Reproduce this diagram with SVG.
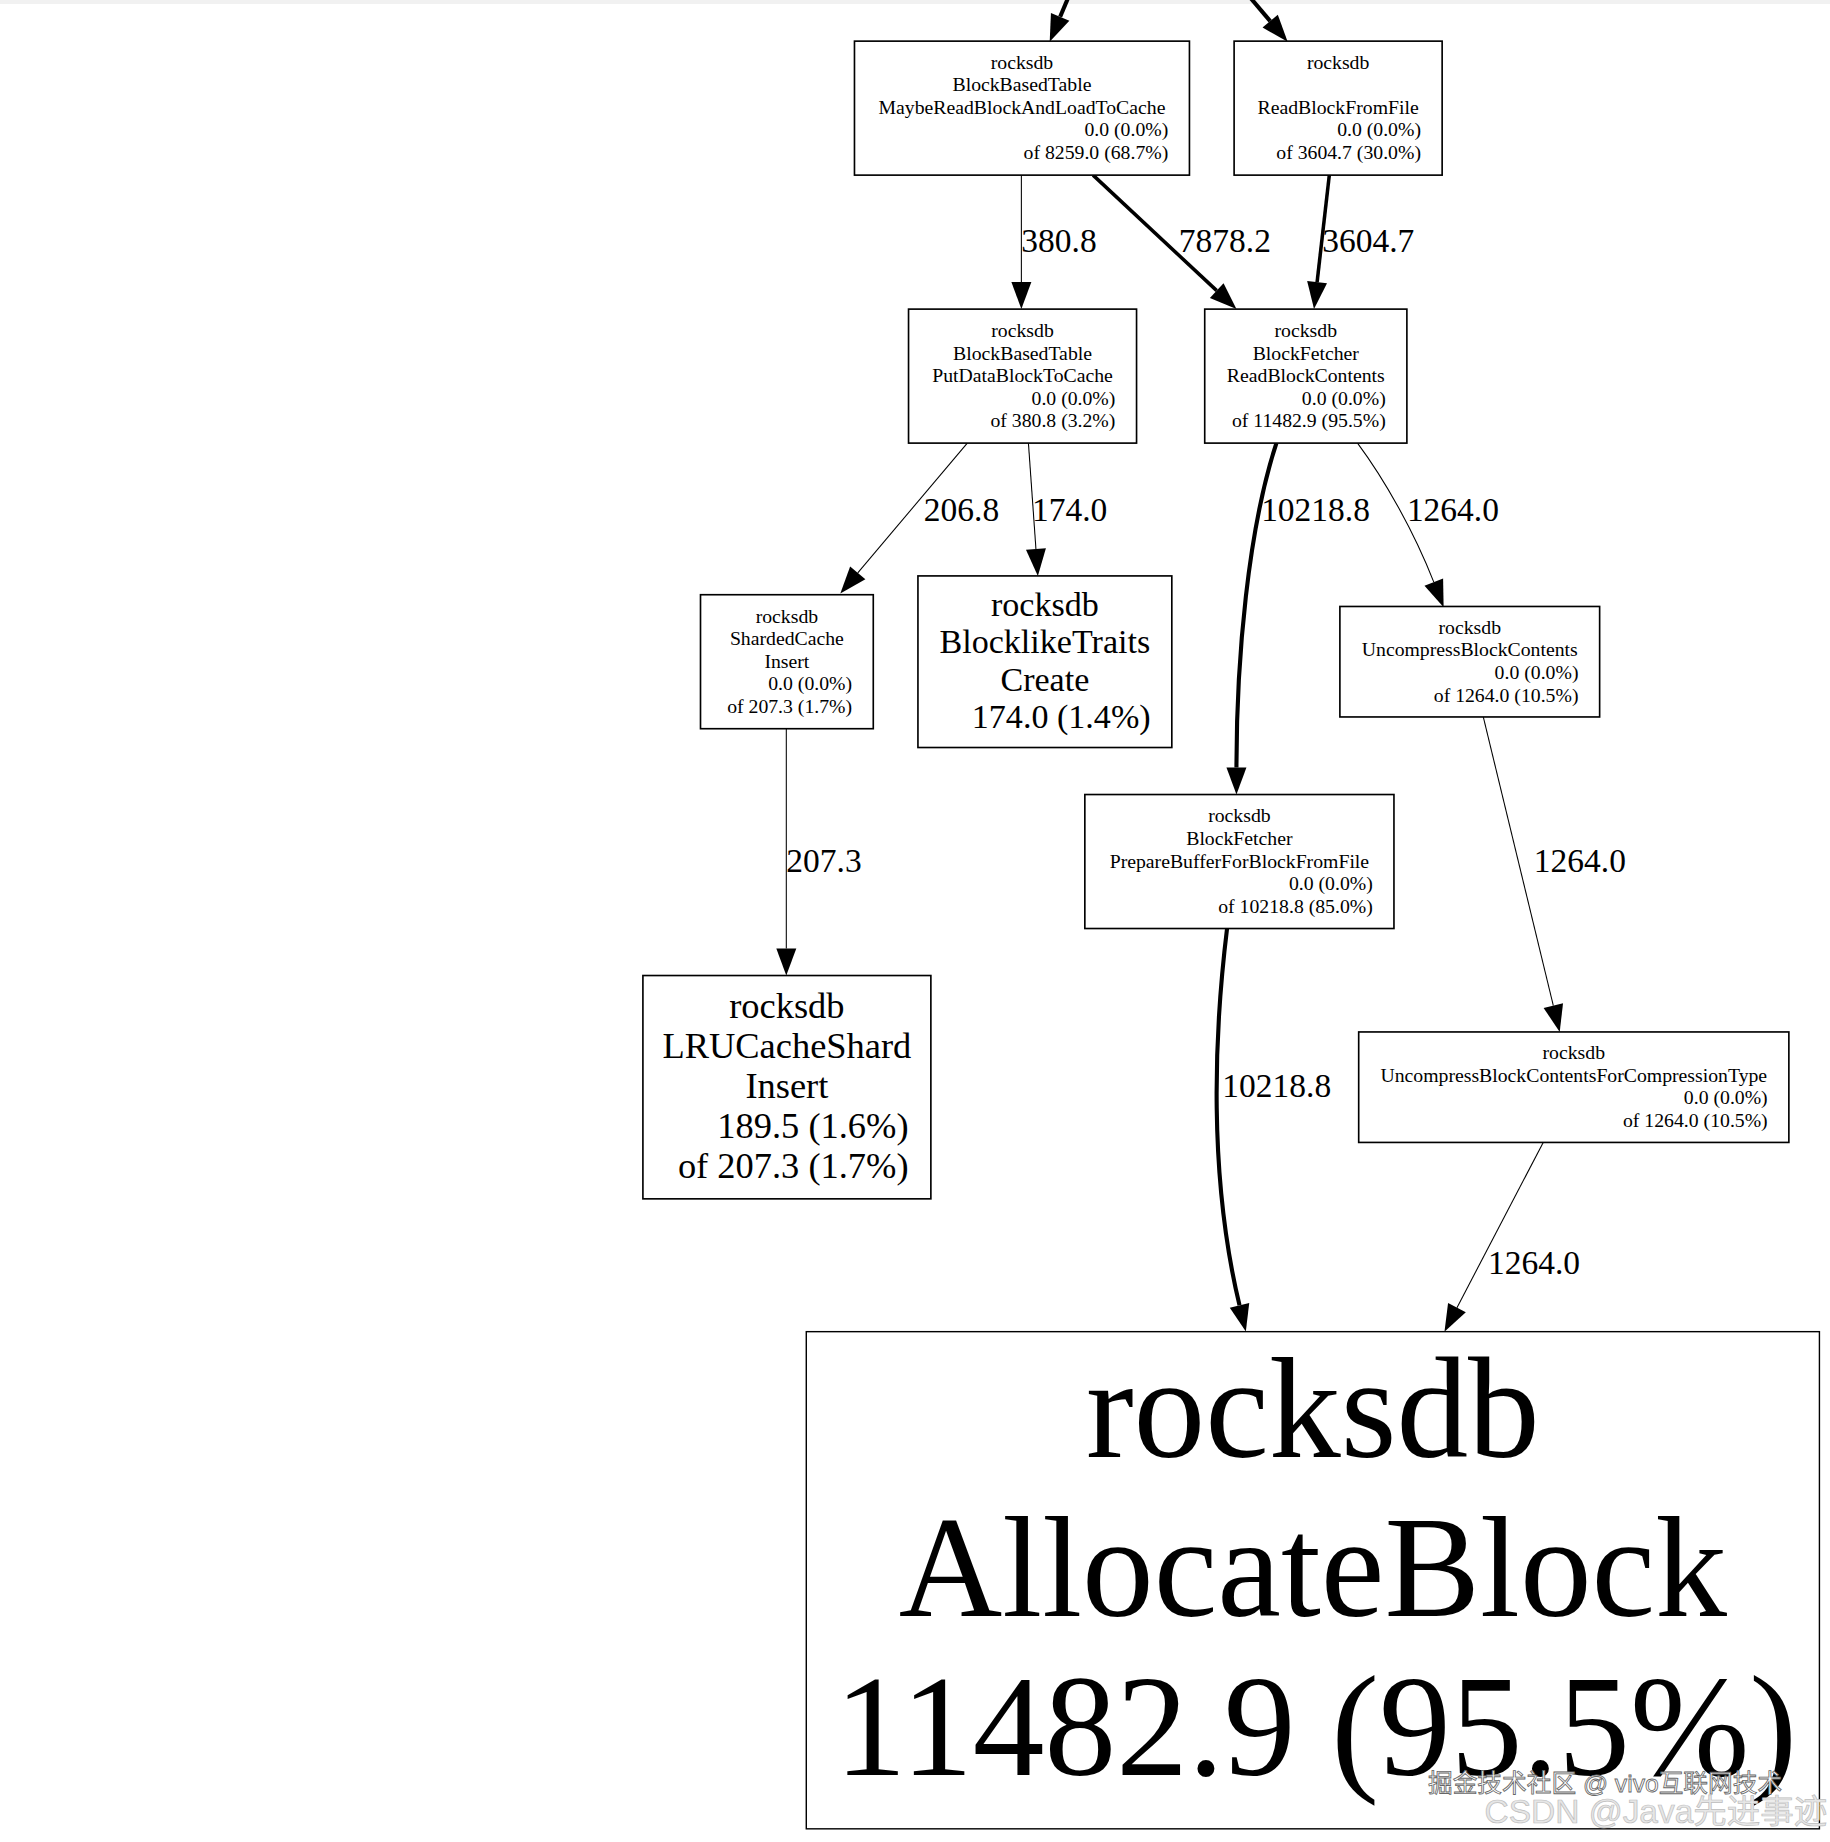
<svg xmlns="http://www.w3.org/2000/svg" width="1830" height="1842" viewBox="0 0 1830 1842">
<style>
text{font-family:"Liberation Serif","Times New Roman",serif;fill:#000}
.n rect{fill:#fff;stroke:#000;stroke-width:1.4}
.s{font-size:16.8px}
.m{font-size:29px}
.l{font-size:31px}
.xl{font-size:122px}
.c{text-anchor:middle}
.r{text-anchor:end}
.el{font-size:28.5px}
.e{fill:none;stroke:#000;marker-end:url(#ah)}
.t1{stroke-width:0.9}
.t3{stroke-width:3}
.t4{stroke-width:3.5}
.wm{font-family:"Liberation Sans","Noto Sans CJK SC",sans-serif}
</style>
<defs>
<marker id="ah" markerUnits="userSpaceOnUse" markerWidth="23" markerHeight="17" refX="0" refY="8.5" orient="auto" overflow="visible">
<path d="M0,0 L23,8.5 L0,17 z" fill="#000"/>
</marker>
</defs>
<rect x="0" y="0" width="1830" height="1842" fill="#fff"/>
<rect x="0" y="0" width="1830" height="4" fill="#f1f1f1"/>
<g transform="scale(1.17534)">
<g id="connectors">
<path class="e t4" d="M912.2,-10 L902,14.3"/>
<path class="e t4" d="M1057,-10 L1080.7,18"/>
<path class="e t1" d="M869,149 L869,240"/>
<path class="e t3" d="M930,149 L1035.2,247.3"/>
<path class="e t3" d="M1131,149 L1120.6,240.1"/>
<path class="e t1" d="M823,377 L729.8,487.4"/>
<path class="e t1" d="M875,377 L881.4,467.1"/>
<path class="e t4" d="M1086,377 C1062,450 1052,560 1052,653"/>
<path class="e t1" d="M1155,377 C1178,408 1203,452 1219.9,495.3"/>
<path class="e t1" d="M669,620 L669,807"/>
<path class="e t1" d="M1262,610 L1321.6,855.6"/>
<path class="e t4" d="M1044,790 C1033,880 1028,1000 1054.6,1110.6"/>
<path class="e t1" d="M1313,972 L1239.6,1112.6"/>
<text class="el" x="869" y="214.5">380.8</text>
<text class="el" x="1003" y="214.5">7878.2</text>
<text class="el" x="1125" y="214.5">3604.7</text>
<text class="el" x="786" y="443">206.8</text>
<text class="el" x="878" y="443">174.0</text>
<text class="el" x="1073" y="443">10218.8</text>
<text class="el" x="1197" y="443">1264.0</text>
<text class="el" x="669" y="742">207.3</text>
<text class="el" x="1305" y="742">1264.0</text>
<text class="el" x="1040" y="933">10218.8</text>
<text class="el" x="1266" y="1084">1264.0</text>
</g>
<g id="n1" class="n">
<rect x="727" y="35" width="285" height="114"/>
<text class="s c" x="869.5" y="58.5">rocksdb</text>
<text class="s c" x="869.5" y="77.7">BlockBasedTable</text>
<text class="s c" x="869.5" y="96.9">MaybeReadBlockAndLoadToCache</text>
<text class="s r" x="994" y="116.1">0.0 (0.0%)</text>
<text class="s r" x="994" y="135.3">of 8259.0 (68.7%)</text>
</g>
<g id="n2" class="n">
<rect x="1050" y="35" width="177" height="114"/>
<text class="s c" x="1138.5" y="58.5">rocksdb</text>
<text class="s c" x="1138.5" y="96.9">ReadBlockFromFile</text>
<text class="s r" x="1209" y="116.1">0.0 (0.0%)</text>
<text class="s r" x="1209" y="135.3">of 3604.7 (30.0%)</text>
</g>
<g id="n3" class="n">
<rect x="773" y="263" width="194" height="114"/>
<text class="s c" x="870" y="286.7">rocksdb</text>
<text class="s c" x="870" y="305.9">BlockBasedTable</text>
<text class="s c" x="870" y="325.1">PutDataBlockToCache</text>
<text class="s r" x="949" y="344.3">0.0 (0.0%)</text>
<text class="s r" x="949" y="363.5">of 380.8 (3.2%)</text>
</g>
<g id="n4" class="n">
<rect x="1025" y="263" width="172" height="114"/>
<text class="s c" x="1111" y="286.7">rocksdb</text>
<text class="s c" x="1111" y="305.9">BlockFetcher</text>
<text class="s c" x="1111" y="325.1">ReadBlockContents</text>
<text class="s r" x="1179" y="344.3">0.0 (0.0%)</text>
<text class="s r" x="1179" y="363.5">of 11482.9 (95.5%)</text>
</g>
<g id="n5" class="n">
<rect x="596" y="506" width="147" height="114"/>
<text class="s c" x="669.5" y="529.7">rocksdb</text>
<text class="s c" x="669.5" y="548.9">ShardedCache</text>
<text class="s c" x="669.5" y="568.1">Insert</text>
<text class="s r" x="725" y="587.3">0.0 (0.0%)</text>
<text class="s r" x="725" y="606.5">of 207.3 (1.7%)</text>
</g>
<g id="n6" class="n">
<rect x="781" y="490" width="216" height="146"/>
<text class="m c" x="889" y="523.7">rocksdb</text>
<text class="m c" x="889" y="555.7">BlocklikeTraits</text>
<text class="m c" x="889" y="587.7">Create</text>
<text class="m r" x="979" y="619.7">174.0 (1.4%)</text>
</g>
<g id="n7" class="n">
<rect x="1140" y="516" width="221" height="94"/>
<text class="s c" x="1250.5" y="539.3">rocksdb</text>
<text class="s c" x="1250.5" y="558.5">UncompressBlockContents</text>
<text class="s r" x="1343" y="577.7">0.0 (0.0%)</text>
<text class="s r" x="1343" y="596.9">of 1264.0 (10.5%)</text>
</g>
<g id="n8" class="n">
<rect x="923" y="676" width="263" height="114"/>
<text class="s c" x="1054.5" y="699.7">rocksdb</text>
<text class="s c" x="1054.5" y="718.9">BlockFetcher</text>
<text class="s c" x="1054.5" y="738.1">PrepareBufferForBlockFromFile</text>
<text class="s r" x="1168" y="757.3">0.0 (0.0%)</text>
<text class="s r" x="1168" y="776.5">of 10218.8 (85.0%)</text>
</g>
<g id="n9" class="n">
<rect x="547" y="830" width="245" height="190"/>
<text class="l c" x="669.5" y="866.3">rocksdb</text>
<text class="l c" x="669.5" y="900.3">LRUCacheShard</text>
<text class="l c" x="669.5" y="934.3">Insert</text>
<text class="l r" x="773" y="968.3">189.5 (1.6%)</text>
<text class="l r" x="773" y="1002.3">of 207.3 (1.7%)</text>
</g>
<g id="n10" class="n">
<rect x="1156" y="878" width="366" height="94"/>
<text class="s c" x="1339" y="901.3">rocksdb</text>
<text class="s c" x="1339" y="920.5">UncompressBlockContentsForCompressionType</text>
<text class="s r" x="1504" y="939.7">0.0 (0.0%)</text>
<text class="s r" x="1504" y="958.9">of 1264.0 (10.5%)</text>
</g>
<g id="n11" class="n">
<rect x="686" y="1133" width="862" height="423" style="stroke-width:1.2"/>
<text class="xl c" x="1117" y="1240">rocksdb</text>
<text class="xl c" x="1117" y="1375">AllocateBlock</text>
<text class="xl r" x="1529" y="1510">11482.9 (95.5%)</text>
</g>
<g id="watermark">
<text class="wm" x="1215" y="1525" font-size="21" style="fill:#fff;stroke:#666;stroke-width:0.7">掘金技术社区 @ vivo互联网技术</text>
<text class="wm" x="1263" y="1551" font-size="28.5" style="fill:#e6e6e6;stroke:#bdbdbd;stroke-width:0.6">CSDN @Java先进事迹</text>
</g>
</g>
</svg>
